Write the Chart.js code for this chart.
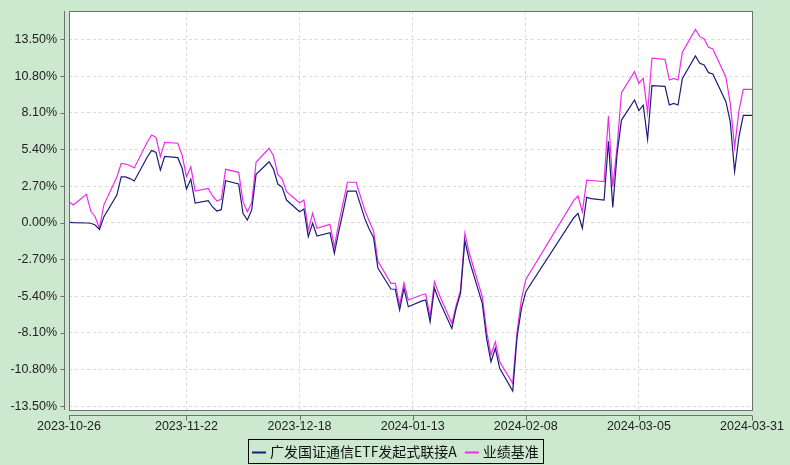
<!DOCTYPE html>
<html>
<head>
<meta charset="utf-8">
<script src="https://cdn.jsdelivr.net/npm/chart.js@4.4.1/dist/chart.umd.min.js"></script>
<style>
  html, body { margin: 0; padding: 0; background: #cce8cf; }
  #wrap { width: 790px; height: 465px; }
</style>
</head>
<body>
<div id="wrap"><canvas id="navChart" width="790" height="465"></canvas></div>
<script>
// trading days (plus quarter/year-end dates) shown on the chart
const dates = [
  "2023-10-26", "2023-10-27", "2023-10-30", "2023-10-31", "2023-11-01", "2023-11-02", "2023-11-03",
  "2023-11-06", "2023-11-07", "2023-11-08", "2023-11-09", "2023-11-10",
  "2023-11-13", "2023-11-14", "2023-11-15", "2023-11-16", "2023-11-17",
  "2023-11-20", "2023-11-21", "2023-11-22", "2023-11-23", "2023-11-24",
  "2023-11-27", "2023-11-28", "2023-11-29", "2023-11-30", "2023-12-01",
  "2023-12-04", "2023-12-05", "2023-12-06", "2023-12-07", "2023-12-08",
  "2023-12-11", "2023-12-12", "2023-12-13", "2023-12-14", "2023-12-15",
  "2023-12-18", "2023-12-19", "2023-12-20", "2023-12-21", "2023-12-22",
  "2023-12-25", "2023-12-26", "2023-12-27", "2023-12-28", "2023-12-29", "2023-12-31",
  "2024-01-02", "2024-01-03", "2024-01-04", "2024-01-05",
  "2024-01-08", "2024-01-09", "2024-01-10", "2024-01-11", "2024-01-12",
  "2024-01-15", "2024-01-16", "2024-01-17", "2024-01-18", "2024-01-19",
  "2024-01-22", "2024-01-23", "2024-01-24", "2024-01-25", "2024-01-26",
  "2024-01-29", "2024-01-30", "2024-01-31", "2024-02-01", "2024-02-02",
  "2024-02-05", "2024-02-06", "2024-02-07", "2024-02-08",
  "2024-02-19", "2024-02-20", "2024-02-21", "2024-02-22", "2024-02-23",
  "2024-02-26", "2024-02-27", "2024-02-28", "2024-02-29", "2024-03-01",
  "2024-03-04", "2024-03-05", "2024-03-06", "2024-03-07", "2024-03-08",
  "2024-03-11", "2024-03-12", "2024-03-13", "2024-03-14", "2024-03-15",
  "2024-03-18", "2024-03-19", "2024-03-20", "2024-03-21", "2024-03-22",
  "2024-03-25", "2024-03-26", "2024-03-27", "2024-03-28", "2024-03-29", "2024-03-31"
];

// cumulative return, %
const fundValues = [
  0.03, 0.01, -0.02, -0.04, -0.17, -0.49, 0.42,
  2.04, 3.37, 3.37, 3.25, 3.07,
  4.84, 5.33, 5.18, 3.88, 4.89,
  4.79, 4.01, 2.48, 3.20, 1.45,
  1.62, 1.16, 0.86, 0.96, 3.09,
  2.85, 0.69, 0.20, 0.94, 3.56,
  4.49, 3.95, 2.85, 2.61, 1.67,
  0.81, 1.01, -1.03, -0.04, -0.98,
  -0.74, -2.25, -0.66, 0.79, 2.33, 2.33,
  0.30, -0.46, -1.09, -3.34,
  -4.88, -4.90, -6.43, -4.83, -6.19,
  -5.77, -5.69, -7.29, -4.83, -5.68,
  -7.78, -6.30, -5.18, -1.33, -2.75,
  -5.94, -8.53, -10.24, -9.25, -10.72,
  -12.39, -8.39, -6.32, -5.08,
  0.35, 0.69, -0.41, 1.87, 1.78,
  1.67, 6.00, 1.13, 5.11, 7.56,
  9.04, 8.25, 8.65, 6.14, 10.09,
  10.04, 8.67, 8.79, 8.67, 10.63,
  12.28, 11.74, 11.61, 11.05, 10.95,
  8.91, 7.44, 3.76, 6.33, 7.91, 7.91
];

const benchValues = [
  1.55, 1.30, 2.09, 0.86, 0.44, -0.41, 1.30,
  3.37, 4.36, 4.32, 4.21, 4.03,
  5.94, 6.46, 6.29, 4.86, 5.92,
  5.85, 4.99, 3.39, 4.12, 2.33,
  2.53, 1.97, 1.60, 1.72, 3.93,
  3.71, 1.55, 0.81, 1.47, 4.45,
  5.48, 4.93, 3.56, 3.22, 2.28,
  1.47, 1.67, -0.54, 0.69, -0.41,
  -0.12, -1.77, -0.04, 1.45, 2.98, 2.98,
  0.91, 0.13, -0.61, -2.82,
  -4.46, -4.46, -6.06, -4.42, -5.69,
  -5.32, -5.25, -6.92, -4.34, -5.23,
  -7.41, -6.08, -4.96, -0.78, -2.23,
  -5.45, -8.01, -9.74, -8.76, -10.24,
  -11.83, -8.03, -5.62, -4.17,
  1.63, 1.97, 0.81, 3.14, 3.11,
  3.03, 7.86, 2.65, 5.60, 9.57,
  11.12, 10.27, 10.63, 8.10, 12.11,
  12.03, 10.51, 10.63, 10.51, 12.55,
  14.24, 13.70, 13.53, 12.92, 12.79,
  10.71, 8.79, 5.55, 8.25, 9.82, 9.82
];

const seriesNames = ["广发国证通信ETF发起式联接A", "业绩基准"];
const xTickLabels = ["2023-10-26", "2023-11-22", "2023-12-18", "2024-01-13", "2024-02-08", "2024-03-05", "2024-03-31"];
const yTicks = [-13.5, -10.8, -8.1, -5.4, -2.7, 0, 2.7, 5.4, 8.1, 10.8, 13.5];

const baseDay = Date.UTC(2023, 9, 26);
function dayOf(s) {
  const p = s.split("-").map(Number);
  return (Date.UTC(p[0], p[1] - 1, p[2]) - baseDay) / 86400000;
}
const xTickDays = xTickLabels.map(dayOf);

const axisColor = "#6f6f6f";
const labelFont = { family: "'Liberation Sans', Arial, sans-serif", size: 12.5 };

// let layout.padding alone decide where the plot box sits
function noOverhang(s) {
  s.paddingTop = 0; s.paddingBottom = 0; s.paddingLeft = 0; s.paddingRight = 0;
}

// white plot area, frame, detached axis lines and boxed legend
const framePlugin = {
  id: "frame",
  beforeDraw(chart) {
    const { ctx, chartArea: a } = chart;
    ctx.save();
    ctx.fillStyle = "#ffffff";
    ctx.fillRect(a.left, a.top, a.right - a.left, a.bottom - a.top);
    ctx.restore();
  },
  afterDraw(chart) {
    const { ctx, chartArea: a } = chart;
    const xs = chart.scales.x, ys = chart.scales.y;
    ctx.save();
    ctx.strokeStyle = axisColor;
    ctx.lineWidth = 1;
    ctx.strokeRect(Math.round(a.left) + 0.5, Math.round(a.top) + 0.5,
      Math.round(a.right - a.left), Math.round(a.bottom - a.top));

    // y axis line left of the plot
    const ax = Math.round(a.left) - 5 + 0.5;
    ctx.beginPath();
    ctx.moveTo(ax, a.top);
    ctx.lineTo(ax, a.bottom);
    yTicks.forEach(v => {
      const y = Math.round(ys.getPixelForValue(v)) + 0.5;
      ctx.moveTo(ax - 4, y);
      ctx.lineTo(ax, y);
    });
    // x axis line below the plot
    const ay = Math.round(a.bottom) + 5 + 0.5;
    ctx.moveTo(a.left, ay);
    ctx.lineTo(a.right, ay);
    xTickDays.forEach(d => {
      const x = Math.round(xs.getPixelForValue(d)) + 0.5;
      ctx.moveTo(x, ay);
      ctx.lineTo(x, ay + 5);
    });
    ctx.stroke();

    // legend
    ctx.font = "14px 'Noto Sans CJK SC', sans-serif";
    ctx.textBaseline = "middle";
    const items = chart.data.datasets.map(ds => ({ text: ds.label, color: ds.borderColor }));
    const lineLen = 14, gap = 4, itemGap = 8, padX = 4, boxH = 24;
    let total = padX * 2 + itemGap * (items.length - 1);
    items.forEach(it => { it.w = ctx.measureText(it.text).width; total += lineLen + gap + it.w; });
    const left = Math.round(395 - total / 2), top = 439;
    ctx.strokeStyle = "#000";
    ctx.strokeRect(left + 0.5, top + 0.5, Math.round(total), boxH);
    let x = left + padX;
    const cy = top + boxH / 2 + 0.5;
    items.forEach(it => {
      ctx.strokeStyle = it.color;
      ctx.lineWidth = 2;
      ctx.beginPath();
      ctx.moveTo(x, Math.round(cy) + 0.5);
      ctx.lineTo(x + lineLen, Math.round(cy) + 0.5);
      ctx.stroke();
      x += lineLen + gap;
      ctx.fillStyle = "#111";
      ctx.fillText(it.text, x, cy);
      x += it.w + itemGap;
    });
    ctx.restore();
  }
};

const ctx = document.getElementById("navChart").getContext("2d");
new Chart(ctx, {
  type: "line",
  data: {
    datasets: [
      {
        label: seriesNames[0],
        data: dates.map((d, i) => ({ x: dayOf(d), y: fundValues[i] })),
        borderColor: "#1c1c7a",
        borderWidth: 1.2,
        pointRadius: 0,
        tension: 0
      },
      {
        label: seriesNames[1],
        data: dates.map((d, i) => ({ x: dayOf(d), y: benchValues[i] })),
        borderColor: "#ee2cee",
        borderWidth: 1.2,
        pointRadius: 0,
        tension: 0
      }
    ]
  },
  options: {
    responsive: false,
    animation: false,
    devicePixelRatio: 1,
    layout: { padding: { top: 11, right: 38, bottom: 0, left: 0 } },
    plugins: {
      legend: { display: false },
      tooltip: { enabled: false }
    },
    scales: {
      x: {
        type: "linear",
        min: 0,
        max: dayOf("2024-03-31"),
        afterBuildTicks: s => { s.ticks = xTickDays.map(v => ({ value: v })); },
        afterFit: s => { s.height = 55; noOverhang(s); },
        grid: { color: "#d9d9d9", drawTicks: false },
        border: { display: false, dash: [3, 3] },
        ticks: {
          autoSkip: false,
          maxRotation: 0,
          padding: 9,
          color: "#222",
          font: labelFont,
          callback: (v, i) => xTickLabels[i]
        }
      },
      y: {
        min: -13.79,
        max: 15.59,
        afterBuildTicks: s => { s.ticks = yTicks.map(v => ({ value: v })); },
        afterFit: s => { s.width = 69; noOverhang(s); },
        grid: { color: "#d9d9d9", drawTicks: false },
        border: { display: false, dash: [3, 3] },
        ticks: {
          padding: 12,
          color: "#222",
          font: labelFont,
          callback: v => v.toFixed(2) + "%"
        }
      }
    }
  },
  plugins: [framePlugin]
});
</script>
</body>
</html>
